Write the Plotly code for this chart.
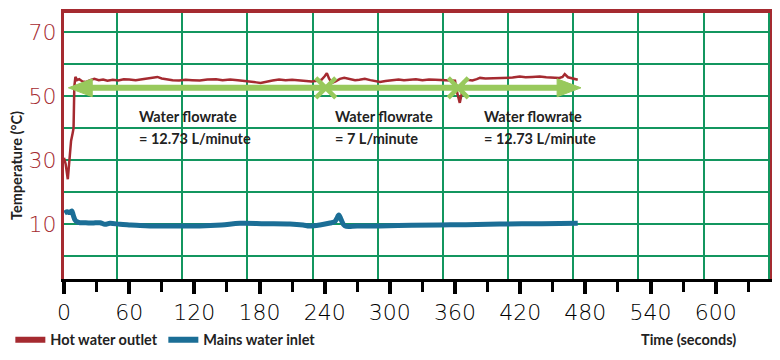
import plotly.graph_objects as go

# ---------------- data ----------------
hot_t = [0, 1.5, 3.5, 5, 6.5, 8, 8.8, 9.5, 10.5, 12, 14, 17, 20, 24, 28, 32, 36, 40, 45, 50,
         55, 60, 66, 72, 78, 83, 86, 90, 95, 100, 106, 112, 118, 125, 132, 140, 146, 153, 160,
         166, 172, 177, 181, 186, 192, 198, 204, 210, 216, 222, 228, 233, 237, 240, 242, 244,
         246.6, 250, 254, 258, 263, 268, 272, 277, 282, 287, 291, 296, 302, 308, 313, 318, 324,
         330, 336, 342, 347, 352, 357, 360, 362, 364.4, 366, 368, 371, 376, 380, 383, 388, 394,
         401, 407, 413, 419.6, 425, 431, 438, 444, 450, 456, 459, 461, 464, 468, 473]
hot_temp = [30.7, 28.8, 24.0, 31, 36, 38.5, 40, 53, 56.0, 55.0, 55.3, 54.6, 54.4, 55.0, 55.4,
            55.0, 55.2, 54.8, 55.1, 54.9, 55.3, 55.2, 55.0, 55.3, 55.5, 55.8, 56.0, 55.5, 55.2,
            55.0, 54.9, 55.1, 55.0, 54.9, 55.2, 55.3, 55.0, 55.2, 55.0, 54.8, 54.7, 54.3, 54.1,
            54.5, 54.9, 55.2, 55.0, 55.1, 54.9, 54.8, 54.6, 54.8, 55.1, 56.2, 57.2, 55.5, 54.1,
            54.6, 55.4, 55.7, 55.3, 55.0, 55.1, 55.4, 55.0, 54.6, 54.4, 54.7, 55.0, 55.2, 55.0,
            55.1, 55.3, 55.0, 55.2, 55.1, 55.0, 54.9, 54.8, 54.8, 51, 47.9, 50.5, 54.5, 55.1,
            54.9, 55.3, 55.7, 55.5, 55.6, 55.5, 55.6, 55.8, 56.1, 55.9, 56.0, 56.1, 55.9, 55.8,
            55.7, 56.0, 56.9, 55.9, 55.5, 55.1]

mains_t = [0.5, 3, 5, 7.1, 8.5, 10.1, 12, 14.7, 20, 26, 33.1, 37.7, 42.3, 51.5, 60, 70, 79.1,
           100, 125, 145, 162, 185, 208, 220, 226, 235.6, 245, 249, 251, 253, 255, 258.6, 270,
           290.8, 320, 346, 370, 401, 440, 473]
mains_temp = [13.4, 13.8, 13.6, 14.1, 12.8, 11.3, 10.7, 10.4, 10.4, 10.3, 10.4, 9.9, 10.2, 9.9,
              9.7, 9.5, 9.4, 9.4, 9.4, 9.7, 10.2, 10.1, 10.0, 9.7, 9.4, 9.7, 10.3, 10.7, 11.6,
              12.8, 11.5, 9.4, 9.4, 9.4, 9.6, 9.7, 9.8, 10.0, 10.1, 10.2]

x_tick_vals = [0, 60, 120, 180, 240, 300, 360, 420, 480, 540, 600]
x_tick_labels = ["0", "60", "120", "180", "240", "300", "360", "420", "480", "540", "600"]
y_tick_vals = [0, 10, 20, 30, 40, 50, 60, 70]
y_tick_labels = ["", "10", "", "30", "", "50", "", "70"]

# flowrate periods: arrow start, change points, arrow end (seconds)
flow_start = 4
flow_changes = [241, 363]
flow_end = 476
flow_level = 52.6
flow_title = "Water flowrate"
flow_rates = ["= 12.73 L/minute", "= 7 L/minute", "= 12.73 L/minute"]
flow_label_t = [67, 247.5, 384.7]

# ---------------- styles ----------------
RED = "#a52a30"
BLUE = "#1b6e96"
GREEN_ARROW = "#98c95c"
GRID = "#13965f"
TXT = "#222222"
NUM_FONT = dict(family="DejaVu Sans", size=22, weight=200)
LBL_FONT = dict(family="Lato", size=14.5, color=TXT, weight="bold")
LEG_FONT = dict(family="Lato", size=14.5, color=TXT, weight="bold")

X_RANGE = [0, 650]
Y_RANGE = [-7.2, 76.0]
head_len = 22     # seconds
head_half = 2.8   # degrees

fig = go.Figure()

# green flow arrow (line + heads + change marks)
fig.add_trace(go.Scatter(
    x=[flow_start + head_len * 0.8, flow_end - head_len * 0.8], y=[flow_level, flow_level],
    mode="lines", line=dict(color=GREEN_ARROW, width=6), showlegend=False, hoverinfo="skip",
    xaxis="x2"))
for tip, d in [(flow_start, 1), (flow_end, -1)]:
    fig.add_trace(go.Scatter(
        x=[tip, tip + d * head_len, tip + d * head_len, tip],
        y=[flow_level, flow_level + head_half, flow_level - head_half, flow_level],
        mode="lines", fill="toself", fillcolor=GREEN_ARROW, line=dict(color=GREEN_ARROW, width=1),
        showlegend=False, hoverinfo="skip", xaxis="x2"))
fig.add_trace(go.Scatter(
    x=flow_changes, y=[flow_level] * len(flow_changes), mode="markers",
    marker=dict(symbol="x-thin", size=20, line=dict(color=GREEN_ARROW, width=4.5)),
    showlegend=False, hoverinfo="skip", xaxis="x2"))

# data lines
fig.add_trace(go.Scatter(x=hot_t, y=hot_temp, mode="lines", name="Hot water outlet",
                         line=dict(color=RED, width=2.5), showlegend=False))
fig.add_trace(go.Scatter(x=mains_t, y=mains_temp, mode="lines", name="Mains water inlet",
                         line=dict(color=BLUE, width=5, shape="spline"), showlegend=False))
# legend entries
fig.add_trace(go.Scatter(x=[None], y=[None], mode="lines", name="Hot water outlet",
                         line=dict(color=RED, width=6)))
fig.add_trace(go.Scatter(x=[None], y=[None], mode="lines", name="Mains water inlet",
                         line=dict(color=BLUE, width=6)))

annotations = []
for t, rate in zip(flow_label_t, flow_rates):
    annotations.append(dict(x=t, y=43.5, xref="x", yref="y", text=flow_title, showarrow=False,
                            xanchor="left", yanchor="middle", font=LBL_FONT))
    annotations.append(dict(x=t, y=36.6, xref="x", yref="y", text=rate, showarrow=False,
                            xanchor="left", yanchor="middle", font=LBL_FONT))
annotations.append(dict(x=-0.0665, y=0.425, xref="paper", yref="paper", text="Temperature (°C)",
                        textangle=-90, showarrow=False, xanchor="center", yanchor="middle",
                        font=LBL_FONT))
annotations.append(dict(x=0.8846, y=-0.229, xref="paper", yref="paper", text="Time (seconds)",
                        showarrow=False, xanchor="center", yanchor="middle", font=LBL_FONT))

fig.update_layout(
    width=780, height=360,
    # page body adds an 8px offset; margins compensate so the plot sits where the original does
    margin=dict(l=56, r=18, t=5, b=89, autoexpand=False),
    paper_bgcolor="white", plot_bgcolor="white",
    showlegend=True,
    legend=dict(orientation="h", x=-0.076, y=-0.229, xanchor="left", yanchor="middle",
                font=LEG_FONT, bgcolor="rgba(0,0,0,0)", itemwidth=30, entrywidth=108),
    xaxis=dict(range=X_RANGE, tickmode="array", tickvals=x_tick_vals, ticktext=x_tick_labels,
               ticks="outside", ticklen=12, tickwidth=4, tickcolor="black",
               showline=True, linecolor="black", linewidth=3, showgrid=False, zeroline=False,
               tickfont=dict(color="black", **NUM_FONT),
               minor=dict(tick0=30, dtick=60, ticks="outside", ticklen=10, tickwidth=3,
                          tickcolor="black", showgrid=False)),
    xaxis2=dict(range=X_RANGE, overlaying="x", side="top", anchor="y", tickmode="linear",
                tick0=48.8, dtick=60, showgrid=True, gridcolor=GRID, gridwidth=1.5,
                showticklabels=False, ticks="", showline=True, linecolor=RED, linewidth=4,
                zeroline=False),
    yaxis=dict(range=Y_RANGE, tickmode="array", tickvals=y_tick_vals, ticktext=y_tick_labels,
               showgrid=True, gridcolor=GRID, gridwidth=1.5, showline=True, linecolor=RED,
               linewidth=3, mirror=True, ticks="", zeroline=False,
               tickfont=dict(color=RED, **NUM_FONT)),
    annotations=annotations,
)

fig.write_html("out.html")
